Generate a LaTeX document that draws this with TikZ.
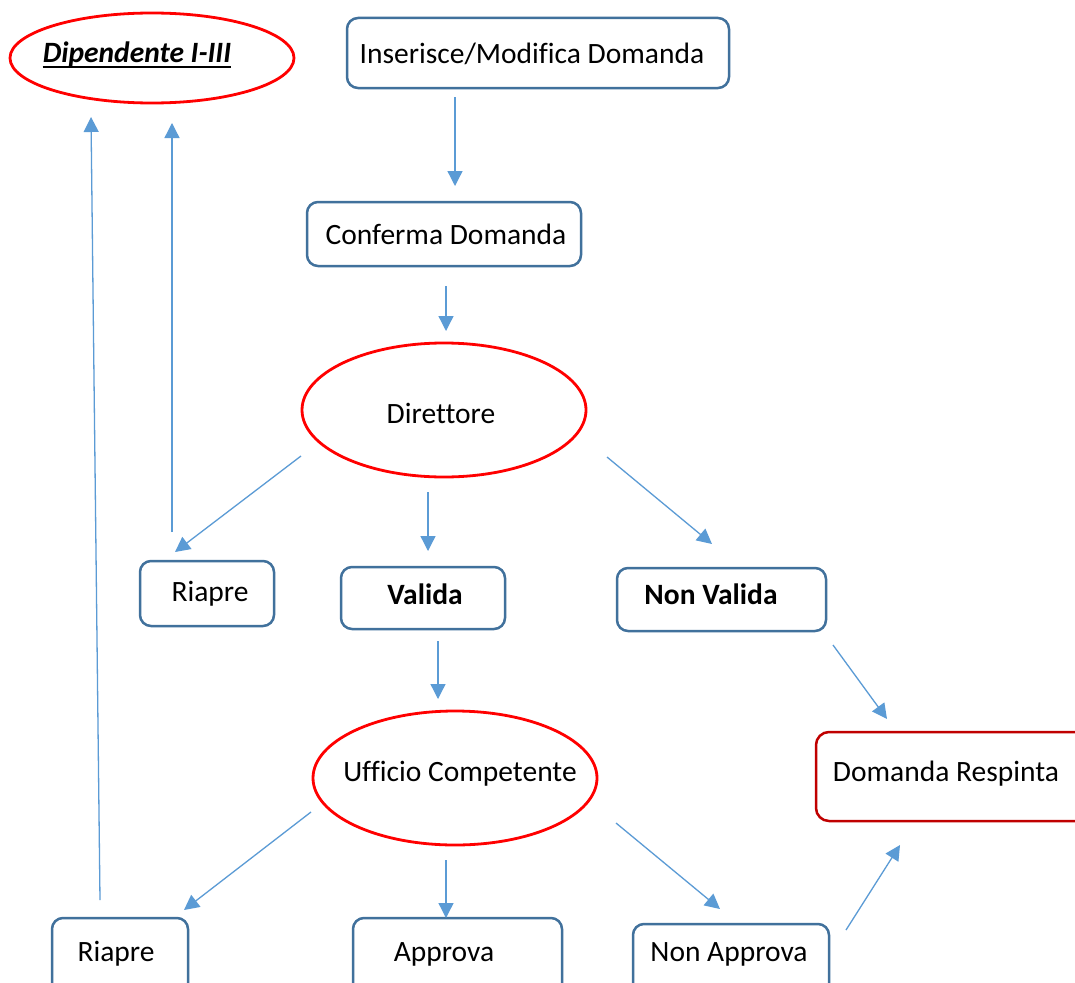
\documentclass[tikz,border=0pt]{standalone}
\usepackage{fontspec}
\setmainfont[Ligatures={NoCommon}]{Carlito}
\usetikzlibrary{arrows.meta,shapes.geometric}
\definecolor{boxblue}{HTML}{41719C}
\definecolor{arrblue}{HTML}{5B9BD5}
\definecolor{darkred}{HTML}{C00000}
\begin{document}
\begin{tikzpicture}[x=1pt,y=-1pt,
  every node/.style={inner sep=0pt, font=\fontsize{29.5}{34}\selectfont},
  stepbox/.style={draw=boxblue, line width=2.5pt, rounded corners=11pt, rectangle},
  redbox/.style={draw=darkred, line width=2.5pt, rounded corners=13pt, rectangle},
  redell/.style={draw=red, line width=2.8pt, ellipse},
  arr/.style={draw=arrblue, line width=1.3pt, -{Triangle[length=15pt,width=15pt]}},
  lbl/.style={anchor=center}
]
\useasboundingbox (0,0) rectangle (1075,982);
\clip (0,0) rectangle (1075,982);
\fill[white] (0,0) rectangle (1075,982);

% shapes
\node[redell, minimum width=284pt, minimum height=90pt] (dipE) at (152,58) {};
\node[stepbox, minimum width=382pt, minimum height=70pt] (ins) at (538,53) {};
\node[stepbox, minimum width=274pt, minimum height=64pt] (conf) at (444,234) {};
\node[redell, minimum width=284pt, minimum height=134pt] (dir) at (444,410) {};
\node[stepbox, minimum width=134pt, minimum height=65pt] (ria1) at (207,593.5) {};
\node[stepbox, minimum width=164pt, minimum height=62pt] (val) at (423,598) {};
\node[stepbox, minimum width=209pt, minimum height=63pt] (nval) at (721.5,599.5) {};
\node[redell, minimum width=284pt, minimum height=134pt] (uff) at (455,778) {};
\node[redbox, minimum width=300pt, minimum height=89pt] (resp) at (966,776.5) {};
\node[stepbox, minimum width=136pt, minimum height=90pt] (ria2) at (120,963) {};
\node[stepbox, minimum width=209pt, minimum height=90pt] (appr) at (457.5,963) {};
\node[stepbox, minimum width=196pt, minimum height=84pt] (napp) at (731,966) {};

% texts
\node[lbl, font=\fontsize{29.5}{34}\selectfont\bfseries\itshape] (dip) at (137,54) {Dipendente I-III};
\draw[line width=1.8pt] ([yshift=-5pt]dip.base west) -- ([yshift=-5pt]dip.base east);
\node[lbl] (tins) at (532,54) {Inserisce/Modifica Domanda};
\node[lbl] (tconf) at (446,234) {Conferma Domanda};
\node[lbl] (tdir) at (441,413) {Direttore};
\node[lbl] (tria1) at (210,594) {Riapre};
\node[lbl, font=\fontsize{29.5}{34}\selectfont\bfseries] (tval) at (425,594) {Valida};
\node[lbl, font=\fontsize{29.5}{34}\selectfont\bfseries] (tnval) at (711,594) {Non Valida};
\node[lbl] (tuff) at (460,774) {Ufficio Competente};
\node[lbl] (tresp) at (946,774) {Domanda Respinta};
\node[lbl] (tria2) at (116,954) {Riapre};
\node[lbl] (tappr) at (444,954) {Approva};
\node[lbl] (tnapp) at (729,954) {Non Approva};

% connector end points
\coordinate (a1s) at (455,97);  \coordinate (a1e) at (455,186);
\coordinate (a2s) at (446,286); \coordinate (a2e) at (446,331);
\coordinate (a3s) at (301,456); \coordinate (a3e) at (175,552);
\coordinate (a4s) at (428,492); \coordinate (a4e) at (428,551);
\coordinate (a5s) at (607,457); \coordinate (a5e) at (712,544);
\coordinate (a6s) at (172,532); \coordinate (a6e) at (172,123);
\coordinate (a7s) at (438,641); \coordinate (a7e) at (438,699);
\coordinate (a8s) at (833,645); \coordinate (a8e) at (887,719);
\coordinate (a9s) at (311,812); \coordinate (a9e) at (184,910);
\coordinate (a10s) at (446,860); \coordinate (a10e) at (446,918);
\coordinate (a11s) at (616,823); \coordinate (a11e) at (720,909);
\coordinate (a12s) at (846,930); \coordinate (a12e) at (900,845);
\coordinate (a13s) at (100,900); \coordinate (a13e) at (91,117);

\foreach \i in {1,...,13} {\draw[arr] (a\i s) -- (a\i e);}
\end{tikzpicture}
\end{document}
